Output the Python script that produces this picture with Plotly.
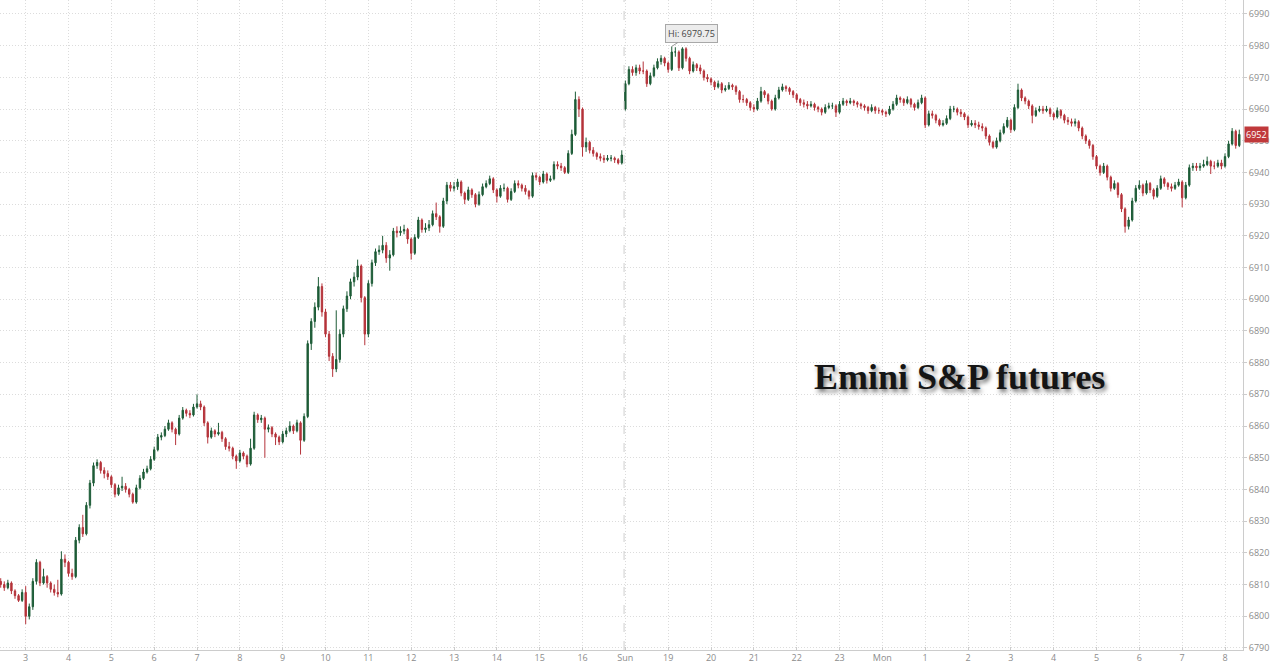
import plotly.graph_objects as go

# ---- Friday session: 5-minute candles starting 02:25 ----
fri_open = [
    6811, 6810, 6809, 6810.5, 6808, 6806.5, 6805, 6807.5, 6800, 6803,
    6811, 6817, 6810.5, 6812.5, 6810.5, 6808.5, 6807.5, 6807, 6818, 6817,
    6813.5, 6812.5, 6824, 6828, 6826, 6835, 6842, 6847.5, 6848.5, 6846,
    6845, 6844, 6841.5, 6838.5, 6840.5, 6841, 6840, 6838.5, 6836, 6840.5,
    6843.5, 6845.5, 6846.5, 6849.5, 6852.5, 6856.5, 6857, 6859, 6861, 6859,
    6857.5, 6862.5, 6865, 6864, 6863.5, 6866, 6867, 6866, 6861, 6856.5,
    6858.5, 6857.5, 6858, 6856, 6853.5, 6853, 6850.5, 6849, 6851.5, 6850.5,
    6848, 6853, 6863.5, 6862, 6862.5, 6859, 6859.5, 6857.5, 6856.5, 6855,
    6857.5, 6858.5, 6860, 6858.5, 6861, 6855.5, 6863, 6886, 6893, 6897.5,
    6904, 6896, 6889, 6882, 6878, 6881, 6889, 6897, 6901, 6905.5,
    6907, 6910.5, 6900.5, 6889, 6905, 6911.5, 6915, 6915.5, 6917, 6913,
    6914, 6921.5, 6921, 6921.5, 6922, 6919, 6914.5, 6919.5, 6925, 6922,
    6922.5, 6923.5, 6927, 6926, 6923, 6931, 6936, 6935, 6935.5, 6937,
    6933.5, 6931.5, 6934.5, 6933, 6930, 6933, 6935.5, 6936.5, 6938, 6934.5,
    6932.5, 6935, 6935, 6931.5, 6934, 6936.5, 6936, 6935, 6934, 6932.5,
    6939, 6938.5, 6937, 6939.5, 6937.5, 6938, 6942.5, 6942, 6941.5, 6940,
    6946, 6952, 6963, 6960, 6948, 6949.5, 6947, 6946, 6945, 6944.5,
    6944, 6944.5, 6944.5, 6944, 6943,
]
fri_high = [
    6812, 6811, 6811.5, 6811, 6808.5, 6807, 6808.5, 6809.5, 6804, 6812,
    6818, 6817.5, 6815, 6813, 6811, 6810, 6811.5, 6820.5, 6819.5, 6817.5,
    6815, 6825, 6829, 6832, 6836, 6843, 6848.5, 6849.5, 6849, 6847,
    6846, 6844.5, 6842, 6841.5, 6844, 6842, 6840.5, 6839, 6841.5, 6844.5,
    6846.5, 6847.5, 6850.5, 6853.5, 6857.5, 6858, 6860, 6862, 6861.5, 6859.5,
    6863.5, 6866, 6865.5, 6865, 6867, 6870, 6868, 6866.5, 6861.5, 6859.5,
    6859, 6861, 6858.5, 6856.5, 6855, 6853.5, 6851, 6852.5, 6852, 6851,
    6856, 6864.5, 6864, 6863.5, 6863, 6860.5, 6860, 6858, 6857, 6858.5,
    6859.5, 6861.5, 6860.5, 6862, 6861.5, 6864, 6887, 6894, 6899, 6907,
    6905, 6897, 6890, 6883, 6896.5, 6890.5, 6898, 6902.5, 6906.5, 6908.5,
    6912.5, 6911, 6901, 6906, 6912.5, 6916, 6917, 6920, 6918, 6915.5,
    6922.5, 6923, 6923, 6923.5, 6922.5, 6919.5, 6920.5, 6926, 6925.5, 6924,
    6925, 6928, 6930.5, 6926.5, 6932, 6937, 6937, 6937, 6938, 6937.5,
    6934, 6935.5, 6935, 6933.5, 6934, 6936.5, 6937.5, 6939, 6938.5, 6935,
    6936, 6936.5, 6935.5, 6935, 6937.5, 6937.5, 6936.5, 6936, 6934.5, 6940,
    6940, 6939, 6940.5, 6940, 6939, 6943.5, 6943.5, 6943, 6942, 6947,
    6953.5, 6965.5, 6964, 6960.5, 6951, 6950, 6948, 6946.5, 6946, 6945.5,
    6945.5, 6945.5, 6945, 6944.5, 6947,
]
fri_low = [
    6809, 6808, 6808.5, 6807, 6805.5, 6804.5, 6804.5, 6797.5, 6799, 6802,
    6810, 6809.5, 6810, 6809, 6807.5, 6806.5, 6806, 6806.5, 6815.5, 6812.5,
    6811.5, 6812, 6823, 6825, 6825.5, 6834, 6841, 6846.5, 6845, 6843.5,
    6843, 6840.5, 6837.5, 6838, 6839.5, 6839, 6837.5, 6835.5, 6835.5, 6840,
    6843, 6845, 6846, 6849, 6852, 6855.5, 6856.5, 6858.5, 6858, 6854,
    6857, 6862, 6863, 6862.5, 6863, 6865.5, 6865, 6860, 6854.5, 6856,
    6856.5, 6857, 6855, 6852.5, 6852, 6849.5, 6846.5, 6848.5, 6849.5, 6847,
    6847.5, 6852.5, 6861, 6861, 6850, 6858, 6856.5, 6854, 6854, 6854.5,
    6856.5, 6858, 6857.5, 6858, 6851, 6855, 6862.5, 6884, 6891, 6896.5,
    6894.5, 6888, 6880.5, 6875.5, 6877, 6880, 6888, 6896, 6900, 6904,
    6906, 6899, 6885.5, 6888, 6904, 6910.5, 6914, 6914.5, 6911.5, 6909,
    6913.5, 6919.5, 6920, 6920.5, 6917.5, 6912.5, 6914, 6919, 6921, 6921,
    6921.5, 6923, 6925, 6921, 6922.5, 6930, 6934, 6934, 6934.5, 6932.5,
    6930, 6931, 6932, 6929, 6929.5, 6932.5, 6935, 6936, 6933.5, 6930.5,
    6932, 6934, 6930.5, 6931, 6933.5, 6935, 6934, 6933, 6931.5, 6932,
    6937.5, 6936, 6936.5, 6936.5, 6937, 6937.5, 6941, 6940.5, 6939.5, 6939.5,
    6945.5, 6951.5, 6957.5, 6945, 6946.5, 6946, 6945, 6944, 6943.5, 6943,
    6943.5, 6943.5, 6943, 6942.5, 6942.5,
]
fri_close = [
    6810, 6809, 6810.5, 6808, 6806.5, 6805, 6807.5, 6800, 6803, 6811,
    6817, 6810.5, 6812.5, 6810.5, 6808.5, 6807.5, 6807, 6818, 6817, 6813.5,
    6812.5, 6824, 6828, 6826, 6835, 6842, 6847.5, 6848.5, 6846, 6845,
    6844, 6841.5, 6838.5, 6840.5, 6841, 6840, 6838.5, 6836, 6840.5, 6843.5,
    6845.5, 6846.5, 6849.5, 6852.5, 6856.5, 6857, 6859, 6861, 6859, 6857.5,
    6862.5, 6865, 6864, 6863.5, 6866, 6867, 6866, 6861, 6856.5, 6858.5,
    6857.5, 6858, 6856, 6853.5, 6853, 6850.5, 6849, 6851.5, 6850.5, 6848,
    6853, 6863.5, 6862, 6862.5, 6859, 6859.5, 6857.5, 6856.5, 6855, 6857.5,
    6858.5, 6860, 6858.5, 6861, 6855.5, 6863, 6886, 6893, 6897.5, 6904,
    6896, 6889, 6882, 6878, 6881, 6889, 6897, 6901, 6905.5, 6907,
    6910.5, 6900.5, 6889, 6905, 6911.5, 6915, 6915.5, 6917, 6913, 6914,
    6921.5, 6921, 6921.5, 6922, 6919, 6914.5, 6919.5, 6925, 6922, 6922.5,
    6923.5, 6927, 6926, 6923, 6931, 6936, 6935, 6935.5, 6937, 6933.5,
    6931.5, 6934.5, 6933, 6930, 6933, 6935.5, 6936.5, 6938, 6934.5, 6932.5,
    6935, 6935, 6931.5, 6934, 6936.5, 6936, 6935, 6934, 6932.5, 6939,
    6938.5, 6937, 6939.5, 6937.5, 6938, 6942.5, 6942, 6941.5, 6940, 6946,
    6952, 6963, 6960, 6948, 6949.5, 6947, 6946, 6945, 6944.5, 6944,
    6944.5, 6944.5, 6944, 6943, 6945.5,
]

# ---- Sunday evening / Monday session: 5-minute candles starting 18:00 ----
sun_open = [
    6960, 6968, 6972.5, 6971.5, 6973, 6972, 6972, 6968, 6970.5, 6973,
    6975, 6976, 6974.5, 6972.5, 6978, 6978, 6973, 6979, 6976, 6972,
    6974, 6973, 6972, 6970, 6969.5, 6968.5, 6967, 6968, 6966, 6966.5,
    6967.5, 6967, 6965.5, 6963, 6963, 6962, 6960.5, 6960, 6962.5, 6965.5,
    6964.5, 6962.5, 6960, 6963.5, 6966, 6967, 6966.5, 6965.5, 6964.5, 6963,
    6962, 6961.5, 6961, 6961.5, 6960.5, 6960, 6959, 6960.5, 6961, 6961,
    6959, 6961.5, 6962.5, 6962, 6962.5, 6962, 6961.5, 6961, 6960.5, 6959.5,
    6960.5, 6959.5, 6959.5, 6959, 6958.5, 6960, 6961.5, 6963.5, 6963, 6962,
    6963, 6961.5, 6960.5, 6962, 6963.5, 6955, 6958.5, 6958, 6956.5, 6955,
    6955.5, 6957, 6960, 6960, 6959, 6958.5, 6957.5, 6955, 6955.5, 6955,
    6954.5, 6954, 6951.5, 6949.5, 6948, 6950, 6952.5, 6954.5, 6956.5, 6953.5,
    6960.5, 6966, 6963.5, 6962.5, 6961, 6958, 6959.5, 6960, 6959.5, 6960,
    6958.5, 6957.5, 6959.5, 6958, 6956.5, 6956, 6955.5, 6956, 6954, 6951.5,
    6950, 6948.5, 6945, 6942, 6940, 6942, 6938.5, 6935, 6936.5, 6933,
    6928.5, 6923, 6925, 6931, 6935, 6936, 6933.5, 6936.5, 6934.5, 6932.5,
    6935, 6938, 6936.5, 6935.5, 6935, 6936, 6937, 6932, 6936, 6941.5,
    6942, 6941.5, 6942, 6942.5, 6943.5, 6942, 6942, 6943, 6942, 6945,
    6949, 6953, 6948.5,
]
sun_high = [
    6969, 6973.5, 6973.5, 6974, 6974, 6975, 6972.5, 6971.5, 6974, 6976,
    6977, 6976.5, 6975, 6979.75, 6979.5, 6978.5, 6979.5, 6979.5, 6976.5, 6975,
    6974.5, 6974, 6972.5, 6971, 6970, 6969, 6969, 6968.5, 6967.5, 6968.5,
    6968, 6967.5, 6966, 6964.5, 6963.5, 6962.5, 6961.5, 6963.5, 6967, 6966,
    6965, 6963, 6964.5, 6967, 6968, 6967.5, 6967, 6966, 6965, 6963.5,
    6963, 6962.5, 6962.5, 6962, 6961, 6960.5, 6961.5, 6962, 6962, 6961.5,
    6962.5, 6963.5, 6963, 6963.5, 6963, 6962.5, 6962, 6961.5, 6961, 6961.5,
    6961, 6960.5, 6960, 6959.5, 6961, 6962.5, 6964.5, 6964, 6963.5, 6964,
    6963.5, 6962, 6963, 6964.5, 6964, 6959.5, 6959.5, 6958.5, 6957, 6956.5,
    6958, 6961, 6961, 6960.5, 6960, 6959, 6958, 6956.5, 6956.5, 6956,
    6955.5, 6954.5, 6952, 6950, 6951, 6953.5, 6955.5, 6957.5, 6957, 6961.5,
    6968, 6966.5, 6964, 6963, 6961.5, 6960.5, 6961, 6961, 6961, 6960.5,
    6959, 6960.5, 6960, 6958.5, 6957.5, 6957, 6957, 6956.5, 6954.5, 6952,
    6950.5, 6949, 6945.5, 6942.5, 6943, 6942.5, 6939, 6937.5, 6937, 6933.5,
    6929, 6926, 6932, 6936, 6937.5, 6936.5, 6937.5, 6937, 6935, 6936,
    6939, 6938.5, 6937, 6936.5, 6937, 6938, 6937.5, 6937, 6942.5, 6943,
    6943, 6943, 6944, 6945, 6944, 6943.5, 6944, 6944, 6946, 6950,
    6954, 6953.5, 6953.5,
]
sun_low = [
    6959.5, 6967.5, 6970.5, 6970.5, 6971, 6971, 6967, 6967.5, 6970, 6972.5,
    6974, 6973.5, 6971.5, 6972, 6976.5, 6972, 6972.5, 6975, 6971, 6971.5,
    6972, 6971, 6969, 6968.5, 6967.5, 6966, 6966.5, 6965, 6965.5, 6966,
    6966, 6964.5, 6962, 6962, 6961, 6959.5, 6959, 6959.5, 6962, 6963.5,
    6961.5, 6959.5, 6959.5, 6963, 6965.5, 6965.5, 6964.5, 6963.5, 6962, 6961,
    6960.5, 6960, 6960.5, 6959.5, 6959, 6958, 6958.5, 6960, 6960, 6957.5,
    6958.5, 6961, 6961, 6961.5, 6961, 6960.5, 6960, 6959.5, 6958.5, 6959,
    6958.5, 6958.5, 6958, 6957.5, 6958, 6959.5, 6961, 6962, 6961, 6961.5,
    6960.5, 6959.5, 6960, 6961.5, 6954, 6954.5, 6957, 6955.5, 6954.5, 6954.5,
    6955, 6956.5, 6959, 6958, 6957.5, 6956.5, 6954, 6954.5, 6954, 6953.5,
    6953, 6950.5, 6948.5, 6947.5, 6947.5, 6949.5, 6952, 6954, 6952.5, 6953,
    6960, 6962.5, 6961.5, 6960, 6955.5, 6957.5, 6959, 6958.5, 6959, 6957.5,
    6956.5, 6957, 6957, 6955.5, 6955, 6954.5, 6954.5, 6953, 6950.5, 6949,
    6947.5, 6944, 6941, 6939, 6939.5, 6937.5, 6934, 6934.5, 6932, 6927.5,
    6921, 6922, 6924.5, 6930.5, 6934.5, 6932.5, 6933, 6933.5, 6931.5, 6932,
    6934.5, 6935.5, 6934.5, 6934, 6934.5, 6935.5, 6929, 6931.5, 6935.5, 6940.5,
    6940.5, 6940.5, 6941.5, 6942, 6939.5, 6941, 6941.5, 6941, 6941.5, 6944.5,
    6948.5, 6947.5, 6948,
]
sun_close = [
    6968, 6972.5, 6971.5, 6973, 6972, 6972, 6968, 6970.5, 6973, 6975,
    6976, 6974.5, 6972.5, 6978, 6978, 6973, 6979, 6976, 6972, 6974,
    6973, 6972, 6970, 6969.5, 6968.5, 6967, 6968, 6966, 6966.5, 6967.5,
    6967, 6965.5, 6963, 6963, 6962, 6960.5, 6960, 6962.5, 6965.5, 6964.5,
    6962.5, 6960, 6963.5, 6966, 6967, 6966.5, 6965.5, 6964.5, 6963, 6962,
    6961.5, 6961, 6961.5, 6960.5, 6960, 6959, 6960.5, 6961, 6961, 6959,
    6961.5, 6962.5, 6962, 6962.5, 6962, 6961.5, 6961, 6960.5, 6959.5, 6960.5,
    6959.5, 6959.5, 6959, 6958.5, 6960, 6961.5, 6963.5, 6963, 6962, 6963,
    6961.5, 6960.5, 6962, 6963.5, 6955, 6958.5, 6958, 6956.5, 6955, 6955.5,
    6957, 6960, 6960, 6959, 6958.5, 6957.5, 6955, 6955.5, 6955, 6954.5,
    6954, 6951.5, 6949.5, 6948, 6950, 6952.5, 6954.5, 6956.5, 6953.5, 6960.5,
    6966, 6963.5, 6962.5, 6961, 6958, 6959.5, 6960, 6959.5, 6960, 6958.5,
    6957.5, 6959.5, 6958, 6956.5, 6956, 6955.5, 6956, 6954, 6951.5, 6950,
    6948.5, 6945, 6942, 6940, 6942, 6938.5, 6935, 6936.5, 6933, 6928.5,
    6923, 6925, 6931, 6935, 6936, 6933.5, 6936.5, 6934.5, 6932.5, 6935,
    6938, 6936.5, 6935.5, 6935, 6936, 6937, 6932, 6936, 6941.5, 6942,
    6941.5, 6942, 6942.5, 6943.5, 6942, 6942, 6943, 6942, 6945, 6949,
    6953, 6948.5, 6952,
]

# Axis: session hours with the weekend gap removed (Fri 17:00 == Sun 18:00)
tick_vals = list(range(3, 32))
tick_text = ['3', '4', '5', '6', '7', '8', '9', '10', '11', '12', '13', '14', '15', '16',
             'Sun', '19', '20', '21', '22', '23', 'Mon',
             '1', '2', '3', '4', '5', '6', '7', '8']
y_ticks = list(range(6790, 7000, 10))

fri_start_min = 2 * 60 + 25   # Friday 02:25
sun_start_hour = 17.0         # Sunday 18:00 on the gap-less axis
fri_x = [(fri_start_min + 5 * i) / 60 for i in range(len(fri_close))]
sun_x = [sun_start_hour + 5 * j / 60 for j in range(len(sun_close))]

hi_value = 6979.75
hi_x = sun_x[13]
last_price = 6952
title_text = "Emini S&P futures"

UP = "#1d5c37"
DOWN = "#b5333a"
GRID = "#dcdcdc"
TICKC = "#8c8c8c"

fig = go.Figure()
fig.add_trace(go.Candlestick(
    x=fri_x + sun_x,
    open=fri_open + sun_open,
    high=fri_high + sun_high,
    low=fri_low + sun_low,
    close=fri_close + sun_close,
    increasing=dict(line=dict(color=UP, width=1), fillcolor=UP),
    decreasing=dict(line=dict(color=DOWN, width=1), fillcolor=DOWN),
    whiskerwidth=0,
    hoverinfo="skip",
    showlegend=False,
))

# session break
fig.add_shape(type="line", xref="x", yref="paper", x0=16.97, x1=16.97, y0=0, y1=1,
              line=dict(color="#cfcfcf", width=1, dash="dash"))

fig.add_annotation(x=hi_x, y=hi_value, xref="x", yref="y",
                   text=f"Hi: {hi_value:.2f}", showarrow=True, arrowhead=0,
                   arrowwidth=1, arrowcolor="#9a9a9a", ax=20, ay=-13,
                   bgcolor="#ececec", bordercolor="#a8a8a8", borderwidth=1,
                   borderpad=2, font=dict(family="Open Sans", size=9, color="#444444"))

fig.add_annotation(x=1.0, y=last_price, xref="paper", yref="y", xanchor="left",
                   xshift=1, text=f"{last_price}", showarrow=False,
                   bgcolor="#c0393b", borderpad=1,
                   font=dict(family="Open Sans", size=9, color="white"))

fig.add_annotation(x=0.772, y=0.42, xref="paper", yref="paper",
                   xanchor="center", yanchor="middle",
                   text=f"<b>{title_text}</b>", showarrow=False,
                   font=dict(family="Liberation Serif", size=36, color="#151515",
                             shadow="2px 3px 4px rgba(0,0,0,0.55)"))

fig.update_layout(
    width=1280, height=664,
    margin=dict(l=0, r=37, t=0, b=14),
    paper_bgcolor="white", plot_bgcolor="white",
    hovermode=False,
    boxgap=0.45,
    xaxis=dict(
        range=[2.40, 31.42], tickmode="array", tickvals=tick_vals, ticktext=tick_text,
        showgrid=True, gridcolor=GRID, griddash="1px,2px", gridwidth=1,
        showline=True, linecolor="#cccccc", linewidth=1,
        ticks="inside", ticklen=3, tickcolor="#cccccc",
        ticklabelstandoff=-1,
        tickfont=dict(family="Open Sans", size=9, color=TICKC),
        rangeslider=dict(visible=False), zeroline=False, automargin=False,
        fixedrange=True,
    ),
    yaxis=dict(
        range=[6789.35, 6994.4], side="right", tickmode="array", tickvals=y_ticks,
        showgrid=True, gridcolor=GRID, griddash="1px,2px", gridwidth=1,
        showline=True, linecolor="#cccccc", linewidth=1,
        ticks="outside", ticklen=3, tickcolor="#cccccc",
        tickfont=dict(family="Open Sans", size=9, color=TICKC),
        zeroline=False, automargin=False, fixedrange=True,
    ),
)

fig.write_html(
    "out.html",
    config={"displayModeBar": False},
    post_script="document.body.style.margin='0';document.body.style.overflow='hidden';",
)
